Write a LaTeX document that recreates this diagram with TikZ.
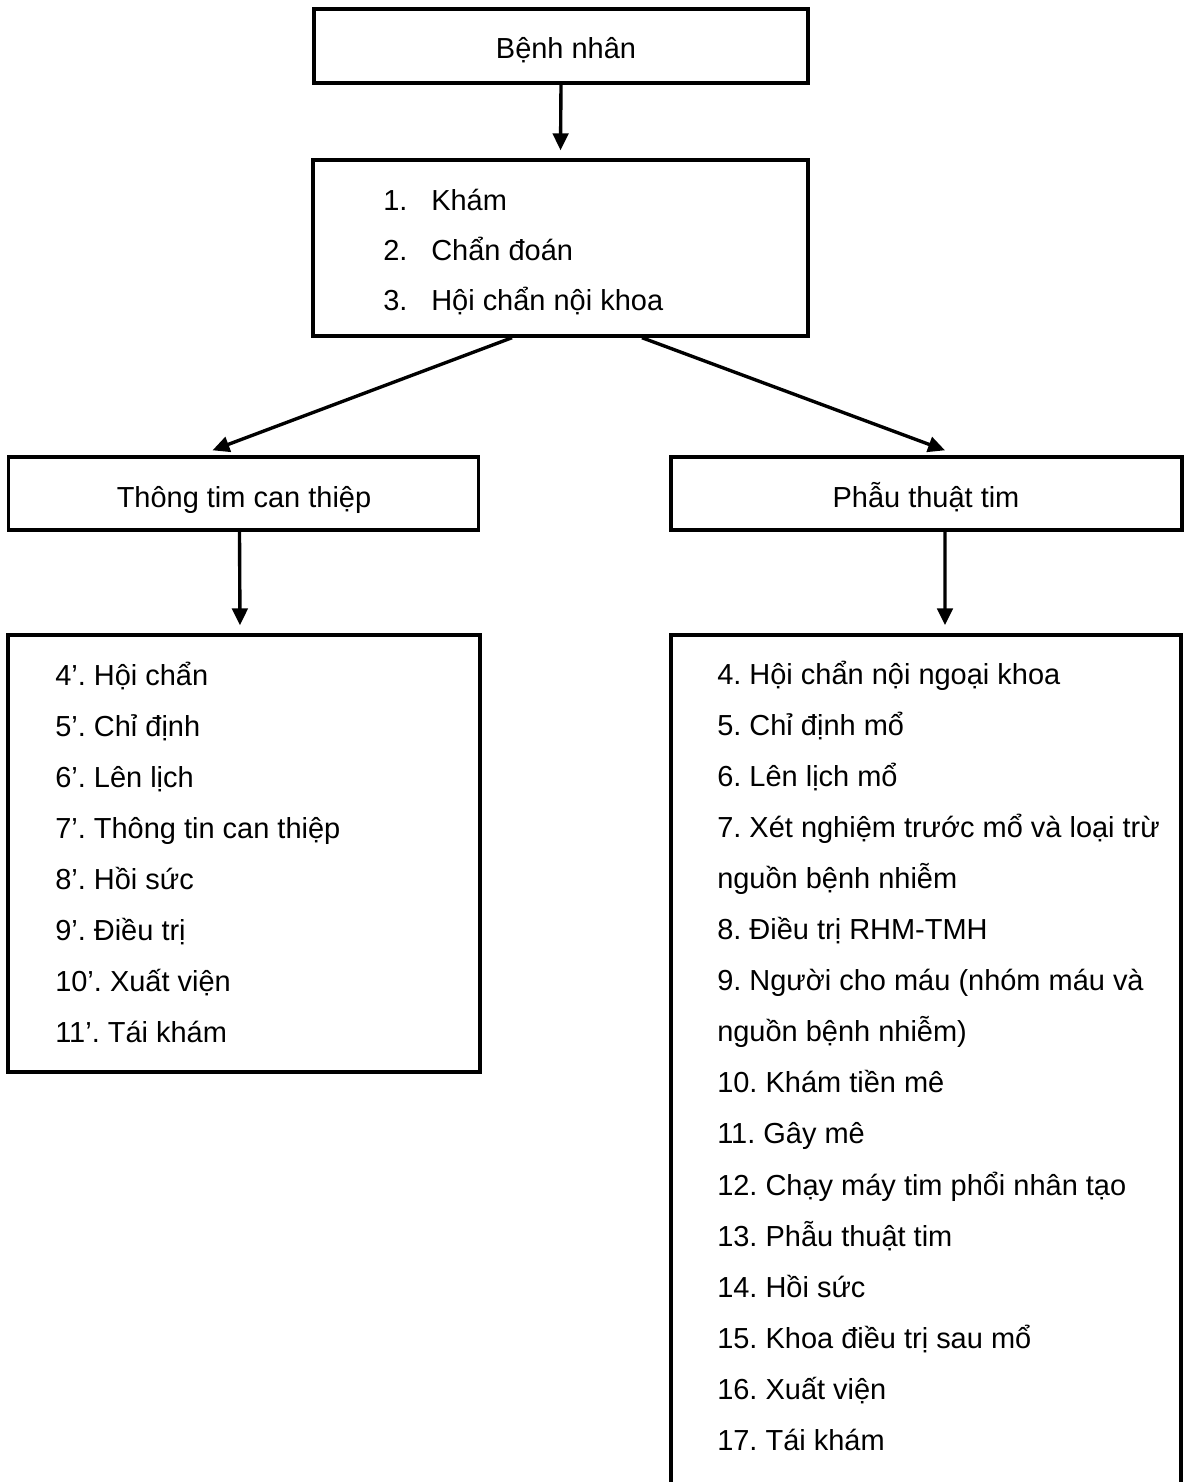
\documentclass[tikz,border=0pt]{standalone}
\usepackage{fontspec}
\setmainfont{Liberation Sans}
\usetikzlibrary{arrows.meta,calc}
\frenchspacing

\begin{document}
\begin{tikzpicture}[x=0.025cm,y=-0.025cm,
	box/.style={draw,line width=2.4pt,inner sep=0pt},
	item/.style={anchor=base west,inner sep=0pt,font=\fontsize{20.6}{24}\selectfont},
	arr/.style={line width=2.4pt,-{Triangle[length=12pt,width=11pt]}}]
	\useasboundingbox (0,0) rectangle (1190,1482);
	% boxes
	\node[box,minimum width=12.35cm,minimum height=1.85cm] (benhnhan) at (561,46) {};
	\node[box,minimum width=12.375cm,minimum height=4.4cm] (kham) at (560.5,248) {};
	\node[box,minimum width=11.75cm,minimum height=1.825cm] (thongtim) at (243.5,493.5) {};
	\node[box,minimum width=12.775cm,minimum height=1.825cm] (phauthuat) at (926.5,493.5) {};
	\node[box,minimum width=11.8cm,minimum height=10.925cm] (listtt) at (244,853.5) {};
	\node[box,minimum width=12.75cm,minimum height=21.625cm] (listpt) at (926,1067.5) {};
	% titles
	\node[item,anchor=base] (tbn) at (566,58) {Bệnh nhân};
	\node[item,anchor=base] (ttt) at (244,507) {Thông tim can thiệp};
	\node[item,anchor=base] (tpt) at (926,507) {Phẫu thuật tim};
	% lists
	\foreach \n/\t [count=\i] in {1./Khám, 2./Chẩn đoán, 3./Hội chẩn nội khoa}{
		\node[item] (kn\i) at (383,{210+50*(\i-1)}) {\n};
		\node[item] (kt\i) at (431,{210+50*(\i-1)}) {\t};
	}
	\foreach \t [count=\i] in {4’. Hội chẩn, 5’. Chỉ định, 6’. Lên lịch,
		7’. Thông tin can thiệp, 8’. Hồi sức, 9’. Điều trị, 10’. Xuất viện, 11’. Tái khám}
		\node[item] (tl\i) at (55,{685+51*(\i-1)}) {\t};
	\foreach \t [count=\i] in {4. Hội chẩn nội ngoại khoa, 5. Chỉ định mổ, 6. Lên lịch mổ,
		7. Xét nghiệm trước mổ và loại trừ, nguồn bệnh nhiễm, 8. Điều trị RHM-TMH,
		{9. Người cho máu (nhóm máu và}, {nguồn bệnh nhiễm)}, 10. Khám tiền mê,
		11. Gây mê, 12. Chạy máy tim phổi nhân tạo, 13. Phẫu thuật tim, 14. Hồi sức,
		15. Khoa điều trị sau mổ, 16. Xuất viện, 17. Tái khám}
		\node[item] (pl\i) at (717,{684+51.1*(\i-1)}) {\t};
	% arrows
	\draw[arr] (benhnhan.south) -- ($(kham.north)+(0,-8)$);
	\draw[arr] ($(kham.south)+(-48.5,0)$) -- ($(thongtim.north)+(-31,-5)$);
	\draw[arr] ($(kham.south)+(81.5,0)$) -- ($(phauthuat.north)+(18.5,-5)$);
	\draw[arr] ($(thongtim.south)+(-4,0)$) -- ($(listtt.north)+(-4,-8)$);
	\draw[arr] ($(phauthuat.south)+(18.5,0)$) -- ($(listpt.north)+(19,-8)$);
\end{tikzpicture}
\end{document}
